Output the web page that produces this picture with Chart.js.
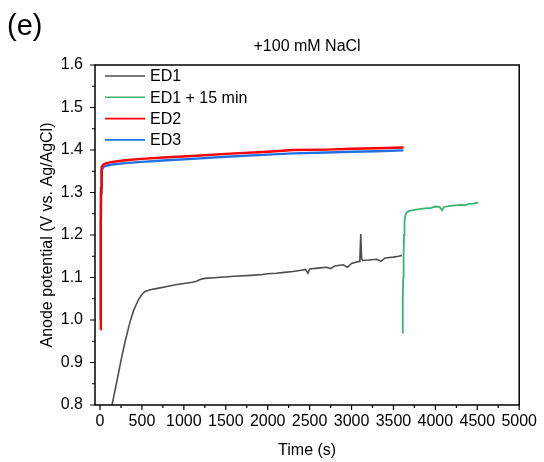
<!DOCTYPE html>
<html>
<head>
<meta charset="utf-8">
<script src="https://cdn.jsdelivr.net/npm/chart.js@4"></script>
<style>
  body { margin: 0; background: #fff; }
  canvas { display: block; }
</style>
</head>
<body>
<canvas id="potentialChart" width="544" height="462"></canvas>
<script>
// Data
const seriesLabels = ["ED1", "ED1 + 15 min", "ED2", "ED3"];
const seriesColors = ["#4d4d4d", "#3cb371", "#ff0000", "#2270e4"];

const ed1Time = [143, 200, 250, 300, 357, 400, 456, 500, 536, 600, 700, 800, 900, 1000, 1100, 1150, 1200, 1250, 1400, 1600, 1800, 1940, 2000, 2100, 2200, 2300, 2400, 2450, 2480, 2500, 2600, 2700, 2750, 2800, 2900, 2950, 3000, 3050, 3090, 3100, 3110, 3120, 3130, 3200, 3300, 3350, 3400, 3500, 3560, 3600];
const ed1Value = [0.80, 0.855, 0.905, 0.95, 0.995, 1.022, 1.047, 1.060, 1.067, 1.071, 1.075, 1.079, 1.083, 1.086, 1.089, 1.091, 1.096, 1.098, 1.100, 1.103, 1.105, 1.107, 1.109, 1.110, 1.112, 1.114, 1.117, 1.119, 1.110, 1.120, 1.122, 1.124, 1.121, 1.127, 1.130, 1.124, 1.133, 1.136, 1.138, 1.145, 1.202, 1.145, 1.140, 1.141, 1.143, 1.138, 1.146, 1.148, 1.150, 1.152];

const ed1bTime = [3605, 3609, 3613, 3617, 3621, 3626, 3632, 3642, 3655, 3680, 3750, 3850, 3950, 4000, 4050, 4080, 4100, 4200, 4300, 4350, 4400, 4450, 4510];
const ed1bValue = [0.970, 1.00, 1.05, 1.10, 1.15, 1.20, 1.232, 1.246, 1.252, 1.256, 1.259, 1.262, 1.264, 1.267, 1.266, 1.258, 1.266, 1.269, 1.271, 1.270, 1.273, 1.274, 1.276];

const ed2Time = [5, 8, 10, 12, 16, 22, 40, 80, 150, 300, 500, 800, 1100, 1500, 2000, 2300, 2700, 3000, 3300, 3620];
const ed2Value = [0.978, 1.10, 1.22, 1.31, 1.345, 1.360, 1.366, 1.369, 1.372, 1.376, 1.379, 1.383, 1.386, 1.391, 1.396, 1.400, 1.401, 1.403, 1.404, 1.406];

const ed3Time = [6, 8, 10, 12, 16, 22, 40, 80, 150, 300, 500, 800, 1100, 1500, 2000, 2300, 2700, 3000, 3300, 3620];
const ed3Value = [1.00, 1.10, 1.22, 1.30, 1.335, 1.352, 1.360, 1.363, 1.366, 1.369, 1.372, 1.376, 1.379, 1.384, 1.389, 1.392, 1.394, 1.396, 1.397, 1.399];

const xTicks = [0, 500, 1000, 1500, 2000, 2500, 3000, 3500, 4000, 4500, 5000];
const yTicks = [0.8, 0.9, 1.0, 1.1, 1.2, 1.3, 1.4, 1.5, 1.6];

const FONT = "'Liberation Sans', Arial, sans-serif";

function toPoints(xs, ys) {
  return xs.map((x, i) => ({ x: x, y: ys[i] }));
}

const allTimes = [ed1Time, ed1bTime, ed2Time, ed3Time];
const allValues = [ed1Value, ed1bValue, ed2Value, ed3Value];
const widths = [1.6, 1.8, 2.4, 2.4];

const datasets = seriesLabels.map((label, i) => ({
  label: label,
  data: toPoints(allTimes[i], allValues[i]),
  borderColor: seriesColors[i],
  borderWidth: widths[i],
  pointRadius: 0,
  showLine: true,
  fill: false,
  tension: 0,
}));

// frame, ticks, titles and legend
const decorations = {
  id: "decorations",
  afterDraw(chart) {
    const c = chart.ctx;
    const a = chart.chartArea;
    const xs = chart.scales.x;
    const ys = chart.scales.y;
    c.save();
    c.strokeStyle = "#000";
    c.lineWidth = 1.5;
    c.strokeRect(a.left, a.top, a.right - a.left, a.bottom - a.top);

    c.lineWidth = 1.2;
    c.beginPath();
    for (let v = 0; v <= 5000; v += 250) {
      const px = xs.getPixelForValue(v);
      const len = v % 500 === 0 ? 5 : 3;
      c.moveTo(px, a.bottom);
      c.lineTo(px, a.bottom + len);
    }
    for (let k = 0; k <= 16; k++) {
      const v = 0.8 + k * 0.05;
      const py = ys.getPixelForValue(v);
      const len = k % 2 === 0 ? 5 : 3;
      c.moveTo(a.left, py);
      c.lineTo(a.left - len, py);
    }
    c.stroke();

    c.fillStyle = "#000";
    c.font = "29px " + FONT;
    c.textAlign = "left";
    c.textBaseline = "alphabetic";
    c.fillText("(e)", 7, 35);

    c.font = "16px " + FONT;
    c.textAlign = "center";
    c.textBaseline = "middle";
    c.fillText("+100 mM NaCl", (a.left + a.right) / 2, 47);

    c.fillText("Time (s)", (a.left + a.right) / 2, 451);

    c.save();
    c.translate(48, (a.top + a.bottom) / 2);
    c.rotate(-Math.PI / 2);
    c.fillText("Anode potential (V vs. Ag/AgCl)", 0, 0);
    c.restore();

    // legend
    c.textAlign = "left";
    seriesLabels.forEach((label, i) => {
      const y = 76 + i * 21.3;
      c.strokeStyle = seriesColors[i];
      c.lineWidth = 1.6;
      c.beginPath();
      c.moveTo(105, y);
      c.lineTo(145, y);
      c.stroke();
      c.fillText(label, 150, y + 1);
    });
    c.restore();
  },
};

const ctx = document.getElementById("potentialChart").getContext("2d");
const potentialChart = new Chart(ctx, {
  type: "scatter",
  data: { datasets: datasets },
  options: {
    responsive: false,
    animation: false,
    layout: { padding: { top: 65, right: 23, left: 0, bottom: 0 } },
    plugins: {
      legend: { display: false },
      title: { display: false },
      tooltip: { enabled: false },
    },
    scales: {
      x: {
        type: "linear",
        min: -60,
        max: 5000,
        grid: { display: false, drawTicks: false },
        border: { display: false },
        ticks: {
          color: "#000",
          font: { family: FONT, size: 16 },
          padding: 7,
          maxRotation: 0,
          autoSkip: false,
          callback: (v) => String(v),
        },
        afterBuildTicks: (s) => { s.ticks = xTicks.map((v) => ({ value: v })); },
        afterFit: (s) => { s.height = 57; },
      },
      y: {
        type: "linear",
        min: 0.8,
        max: 1.6,
        grid: { display: false, drawTicks: false },
        border: { display: false },
        ticks: {
          color: "#000",
          font: { family: FONT, size: 16 },
          padding: 12,
          callback: (v) => Number(v).toFixed(1),
        },
        afterBuildTicks: (s) => { s.ticks = yTicks.map((v) => ({ value: v })); },
        afterFit: (s) => { s.width = 95; },
      },
    },
  },
  plugins: [decorations],
});
</script>
</body>
</html>
